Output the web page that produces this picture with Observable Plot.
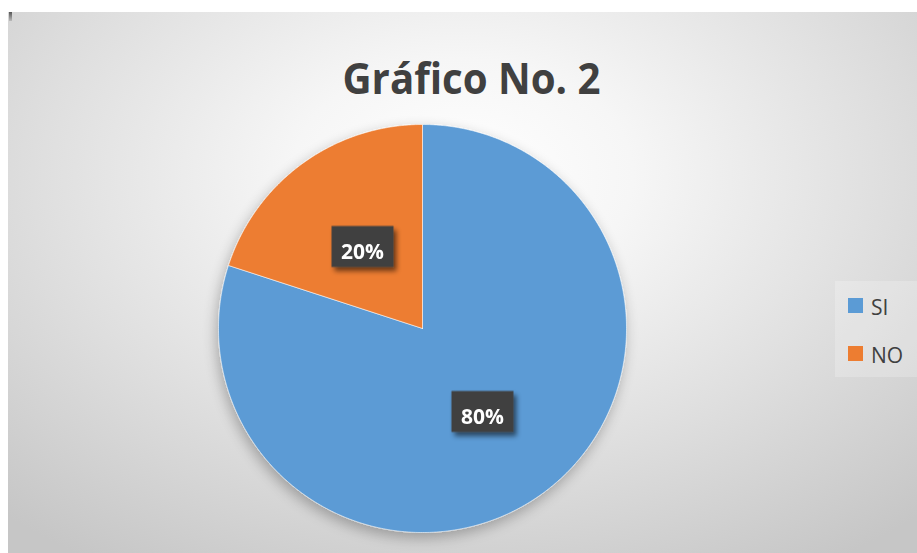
<!DOCTYPE html>
<html>
<head>
<meta charset="utf-8">
<script src="https://cdn.jsdelivr.net/npm/d3@7"></script>
<script src="https://cdn.jsdelivr.net/npm/@observablehq/plot@0.6"></script>
<style>
  html, body { margin: 0; padding: 0; background: #ffffff; }
  #wrap { position: relative; width: 917px; height: 553px; overflow: hidden; font-family: "Open Sans", sans-serif; }
  #panel { position: absolute; left: 8px; top: 12px; width: 909px; height: 541px;
    background: radial-gradient(ellipse 75% 85% at 50% 30%, #ffffff 0%, #f6f6f6 25%, #e0e0e0 60%, #c6c6c6 100%); }
  #tick { position: absolute; left: 9px; top: 12px; width: 3px; height: 9px; background: linear-gradient(#555, #bbb); }
  #chart { position: absolute; left: 0; top: 0; }
  #legend { position: absolute; left: 835px; top: 281px; width: 82px; height: 96px; background: rgba(255,255,255,0.22); }
  .sw { position: absolute; left: 13px; width: 15px; height: 15px; }
  .lt { position: absolute; left: 36px; font-size: 21px; color: #404040; line-height: 1; }
</style>
</head>
<body>
<div id="wrap">
  <div id="panel"></div>
  <div id="tick"></div>
  <div id="chart"></div>
  <div id="legend"></div>
</div>
<script>
const categories = ["SI", "NO"];
const values = [80, 20];
const colors = ["#5B9BD5", "#ED7D31"];
const labels = ["80%", "20%"];
const title = "Gráfico No. 2";

const total = d3.sum(values);
const pts = [];
const labelData = [];
let acc = 0;
categories.forEach((c, i) => {
  const a0 = acc / total * 2 * Math.PI;
  acc += values[i];
  const a1 = acc / total * 2 * Math.PI;
  const n = Math.max(2, Math.ceil((a1 - a0) / (Math.PI / 360)));
  pts.push({cat: c, x: 0, y: 0});
  for (let k = 0; k <= n; k++) {
    const a = a0 + (a1 - a0) * k / n;
    pts.push({cat: c, x: Math.sin(a), y: Math.cos(a)});
  }
  pts.push({cat: c, x: 0, y: 0});
  const m = (a0 + a1) / 2;
  labelData.push({cat: c, label: labels[i], x: 0.5 * Math.sin(m), y: 0.5 * Math.cos(m)});
});

const boxSymbol = { draw(ctx) { ctx.rect(-31, -20, 62, 41); } };

const W = 917, H = 553, cx = 422, cy = 328, R = 204;
const plot = Plot.plot({
  width: W, height: H,
  marginLeft: cx - R, marginRight: W - (cx + R),
  marginTop: cy - R, marginBottom: H - (cy + R),
  x: {domain: [-1, 1], axis: null},
  y: {domain: [-1, 1], axis: null},
  color: {domain: categories, range: colors},
  style: {background: "transparent", overflow: "visible"},
  marks: [
    Plot.line(pts, {x: "x", y: "y", z: "cat", fill: "cat", stroke: "#ffffff", strokeOpacity: 0.55, strokeWidth: 1, curve: "linear"}),
    Plot.dot(labelData, {x: "x", y: "y", symbol: boxSymbol, r: 10, fill: "#404040", stroke: "none"}),
    Plot.text(labelData, {x: "x", y: "y", text: "label", fill: "#ffffff", fontSize: 21, fontWeight: "bold", dy: 6, fontFamily: "Open Sans"}),
    Plot.text([title], {frameAnchor: "top", text: d => d, dx: 49, dy: -31, fontSize: 43, fontWeight: "bold", fill: "#404040", fontFamily: "Open Sans", lineAnchor: "bottom"})
  ]
});

const svg = d3.select(plot);
const defs = svg.insert("defs", ":first-child");
defs.append("filter").attr("id", "pieShadow").attr("x", "-20%").attr("y", "-20%").attr("width", "140%").attr("height", "140%")
  .html('<feGaussianBlur in="SourceAlpha" stdDeviation="7"/><feOffset dx="-2" dy="5" result="b"/><feComponentTransfer><feFuncA type="linear" slope="0.28"/></feComponentTransfer><feMerge><feMergeNode/><feMergeNode in="SourceGraphic"/></feMerge>');
defs.append("filter").attr("id", "boxShadow").attr("x", "-30%").attr("y", "-30%").attr("width", "160%").attr("height", "160%")
  .html('<feGaussianBlur in="SourceAlpha" stdDeviation="2.5"/><feOffset dx="3" dy="4" result="b"/><feComponentTransfer><feFuncA type="linear" slope="0.55"/></feComponentTransfer><feMerge><feMergeNode/><feMergeNode in="SourceGraphic"/></feMerge>');
svg.selectAll('g[aria-label="line"]').attr("filter", "url(#pieShadow)");
svg.selectAll('g[aria-label="dot"]').attr("filter", "url(#boxShadow)");
const textGroups = svg.selectAll('g[aria-label="text"]').nodes();
const titleText = d3.select(textGroups[textGroups.length - 1]).select("text");
titleText.attr("textLength", 258).attr("lengthAdjust", "spacingAndGlyphs");

document.getElementById("chart").appendChild(plot);

const legend = d3.select("#legend");
categories.forEach((c, i) => {
  legend.append("div").attr("class", "sw").style("top", (17 + i * 48) + "px").style("background", colors[i]);
  legend.append("div").attr("class", "lt").style("top", (16 + i * 48) + "px").text(c);
});
</script>
</body>
</html>
